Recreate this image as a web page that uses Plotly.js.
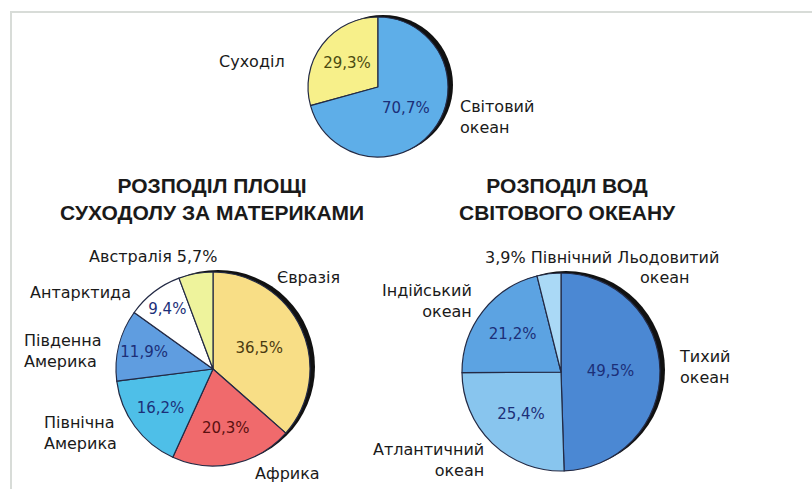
<!DOCTYPE html>
<html><head><meta charset="utf-8">
<script src="https://cdn.plot.ly/plotly-3.0.1.min.js"></script>
<style>html,body{margin:0;padding:0;background:#fff;}#chart{width:812px;height:489px;}</style>
</head><body><div id="chart"></div>
<script>
// Data
const worldLabels = ['Суходіл', 'Світовий океан'];
const worldValues = [29.3, 70.7];
const landLabels = ['Євразія', 'Африка', 'Північна Америка', 'Південна Америка', 'Антарктида', 'Австралія'];
const landValues = [36.5, 20.3, 16.2, 11.9, 9.4, 5.7];
const oceanLabels = ['Тихий океан', 'Атлантичний океан', 'Індійський океан', 'Північний Льодовитий океан'];
const oceanValues = [49.5, 25.4, 21.2, 3.9];
const titleLand = 'РОЗПОДІЛ ПЛОЩІ<br>СУХОДОЛУ ЗА МАТЕРИКАМИ';
const titleOcean = 'РОЗПОДІЛ ВОД<br>СВІТОВОГО ОКЕАНУ';

const W = 812, H = 489;
const px = x => x / W;
const py = y => 1 - y / H;
const fmt = v => v.toFixed(1).replace('.', ',') + '%';
const FONT = 'DejaVu Sans, Arial, sans-serif';
const BFONT = 'Liberation Sans, Arial, sans-serif';

function dom(cx, cy, r) { return {x: [px(cx - r), px(cx + r)], y: [py(cy + r), py(cy - r)]}; }

const pies = [
  {labels: worldLabels, values: worldValues, c: [378, 87, 70],
   colors: ['#f7f08a', '#5eaee8'], tcol: ['#4a4a10', '#1c2f78'],
   text: worldValues.map(v => fmt(v)), rotation: -worldValues[0] * 3.6},
  {labels: landLabels, values: landValues, c: [213, 369, 97],
   colors: ['#f8de86', '#f06a6c', '#4ebfe8', '#5f9de0', '#ffffff', '#eef39c'],
   tcol: ['#4a3a10', '#5a1010', '#1c2f78', '#1c2f78', '#1c2f78', '#333'],
   text: landValues.map((v, i) => i === 5 ? '' : fmt(v)), rotation: 0},
  {labels: oceanLabels, values: oceanValues, c: [561, 372, 99],
   colors: ['#4b88d3', '#88c5ee', '#5ca3e2', '#aad9f6'],
   tcol: ['#1c2f78', '#1c2f78', '#1c2f78', '#1c2f78'],
   text: oceanValues.map((v, i) => i === 3 ? '' : fmt(v)), rotation: 0}
];

const data = pies.map(p => ({
  type: 'pie', labels: p.labels, values: p.values, sort: false,
  direction: 'clockwise', rotation: p.rotation,
  domain: dom(p.c[0], p.c[1], p.c[2]),
  marker: {colors: p.colors, line: {color: '#232a45', width: 1.2}},
  text: p.text, textinfo: 'text', texttemplate: '%{text}',
  textposition: 'inside', insidetextorientation: 'horizontal',
  insidetextfont: {family: FONT, size: 15, color: p.tcol},
  hoverinfo: 'label+percent', showlegend: false
}));

const shapes = [
  {type: 'line', xref: 'paper', yref: 'paper', x0: px(10), x1: 1, y0: py(12), y1: py(12), line: {color: '#d8dcd8', width: 2}},
  {type: 'line', xref: 'paper', yref: 'paper', x0: px(11), x1: px(11), y0: py(12), y1: 0, line: {color: '#d8dcd8', width: 2}}
];
pies.forEach(p => {
  const [cx, cy, r] = p.c;
  shapes.push({type: 'circle', xref: 'paper', yref: 'paper', layer: 'below',
    x0: px(cx - r + 5), x1: px(cx + r + 5), y0: py(cy + r - 2), y1: py(cy - r - 2),
    fillcolor: '#111', line: {width: 0}});
});

function ann(text, x, y, align, xanchor) {
  return {text: text, x: px(x), y: py(y), xref: 'paper', yref: 'paper', showarrow: false,
    align: align || 'left', xanchor: xanchor || 'left', yanchor: 'middle',
    font: {family: FONT, size: 16, color: '#1a1a1a'}};
}
function title(text, x, y) {
  return {text: '<b>' + text + '</b>', x: px(x), y: py(y), xref: 'paper', yref: 'paper', showarrow: false,
    align: 'center', xanchor: 'center', yanchor: 'middle', font: {family: BFONT, size: 21, color: '#1a1a1a'}};
}

const annotations = [
  ann(worldLabels[0], 217, 62),
  ann('Світовий<br>океан', 458, 117),
  title(titleLand, 212, 199),
  title(titleOcean, 567, 199),
  ann(landLabels[5] + ' ' + fmt(landValues[5]), 87, 256),
  ann(landLabels[0], 275, 277),
  ann(landLabels[4], 28, 292),
  ann('Південна<br>Америка', 22, 351),
  ann('Північна<br>Америка', 42, 433),
  ann(landLabels[1], 253, 473),
  ann(fmt(oceanValues[3]) + ' Північний Льодовитий', 483, 257),
  ann('океан', 665, 277, 'center', 'center'),
  ann('Індійський<br>океан', 474, 301, 'right', 'right'),
  ann('Тихий<br>океан', 677, 367),
  ann('Атлантичний<br>океан', 486, 460, 'right', 'right')
];

Plotly.newPlot('chart', data, {
  width: W, height: H, margin: {l: 0, r: 0, t: 0, b: 0},
  paper_bgcolor: '#ffffff', shapes: shapes, annotations: annotations
}, {displayModeBar: false, staticPlot: true});
</script></body></html>
